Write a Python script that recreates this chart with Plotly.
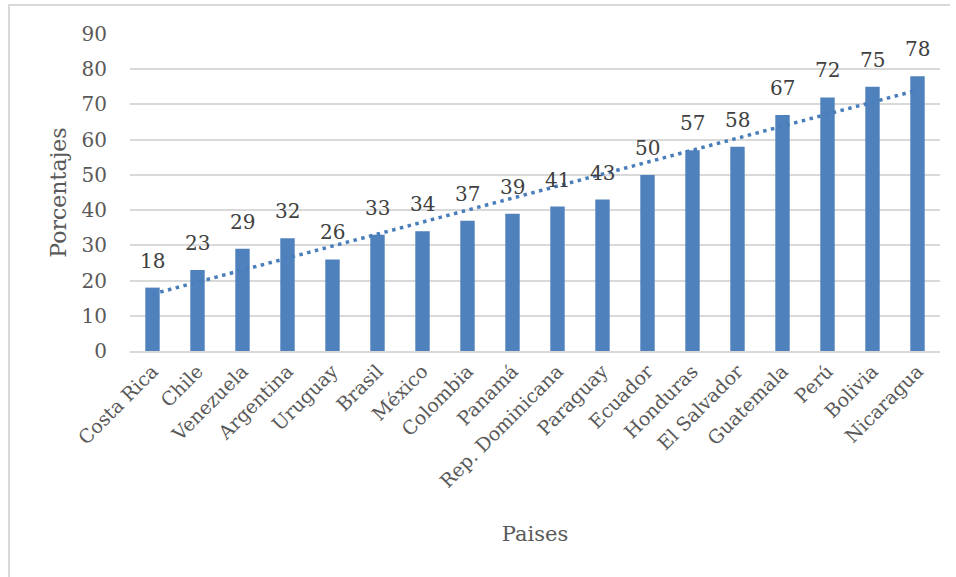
import numpy as np
import plotly.graph_objects as go

# Share of population by country (percent)
paises = ["Costa Rica", "Chile", "Venezuela", "Argentina", "Uruguay", "Brasil",
          "México", "Colombia", "Panamá", "Rep. Dominicana", "Paraguay", "Ecuador",
          "Honduras", "El Salvador", "Guatemala", "Perú", "Bolivia", "Nicaragua"]
porcentajes = [18, 23, 29, 32, 26, 33, 34, 37, 39, 41, 43, 50, 57, 58, 67, 72, 75, 78]
y_ticks = [0, 10, 20, 30, 40, 50, 60, 70, 80, 90]

FONT = "DejaVu Serif"
BAR = "#4F81BD"
GRID = "#D9D9D9"

# Linear trend over the category index
idx = np.arange(1, len(porcentajes) + 1)
slope, intercept = np.polyfit(idx, porcentajes, 1)
tendencia = slope * idx + intercept

fig = go.Figure()
fig.add_trace(go.Bar(
    x=paises, y=porcentajes,
    marker=dict(color=BAR, line=dict(width=0)),
    showlegend=False, hoverinfo="x+y",
))
fig.add_trace(go.Scatter(
    x=paises, y=tendencia, mode="lines",
    line=dict(color="#4A7EBB", width=3.5, dash="3.5px,4.5px"),
    showlegend=False, hoverinfo="skip",
))

# Value labels above each bar
annotations = [
    dict(x=p, y=v, xref="x", yref="y", text=str(v), showarrow=False,
         yanchor="bottom", yshift=13, font=dict(family=FONT, size=20, color="#404040"))
    for p, v in zip(paises, porcentajes)
]

W, H = 956, 577
L, R, T, B = 130, 940, 34, 351

def px_x(px):
    return (px - L) / (R - L)

def px_y(py):
    return (B - py) / (B - T)

# Chart frame: top and left edges
frame = [
    dict(type="line", xref="paper", yref="paper",
         x0=px_x(8), x1=px_x(950), y0=px_y(5), y1=px_y(5),
         line=dict(color=GRID, width=2), layer="below"),
    dict(type="line", xref="paper", yref="paper",
         x0=px_x(9), x1=px_x(9), y0=px_y(4), y1=px_y(640),
         line=dict(color=GRID, width=2), layer="below"),
]

fig.update_layout(
    width=W, height=H,
    margin=dict(l=L, r=W - R, t=T, b=H - B),
    paper_bgcolor="white", plot_bgcolor="white",
    bargap=0.68,
    font=dict(family=FONT, color="#595959"),
    annotations=annotations,
    shapes=frame,
    xaxis=dict(
        tickangle=-45, tickfont=dict(family=FONT, size=19, color="#595959"),
        showline=True, linecolor=GRID, linewidth=1.5, ticks="",
        showgrid=False, automargin=False,
        title=dict(text="Paises", font=dict(family=FONT, size=21, color="#595959"), standoff=35),
    ),
    yaxis=dict(
        range=[0, 90], tickvals=y_ticks, ticks="",
        tickfont=dict(family=FONT, size=20, color="#595959"),
        ticklabelstandoff=22,
        showgrid=True, gridcolor=GRID, gridwidth=1.5, zeroline=False,
        showline=False, automargin=False,
        title=dict(text="Porcentajes", font=dict(family=FONT, size=22, color="#595959"), standoff=8),
    ),
)

fig.write_html("out.html")
